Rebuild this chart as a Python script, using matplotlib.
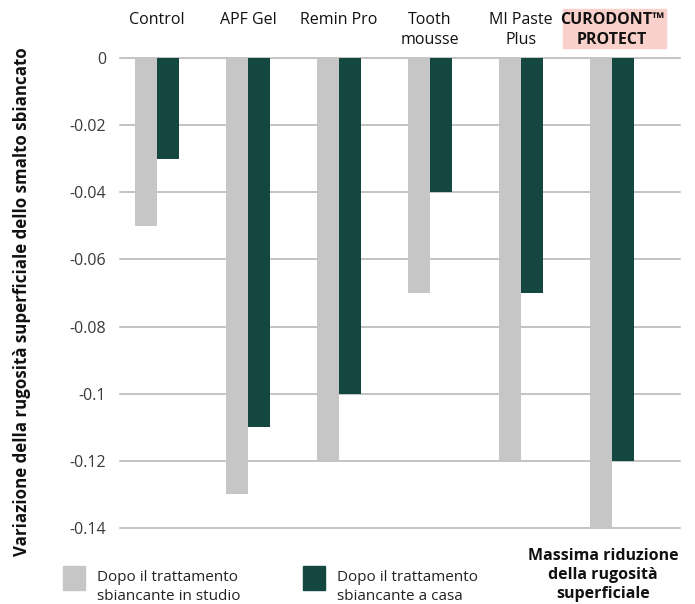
import numpy as np
import matplotlib as mpl; mpl.use('Agg'); import matplotlib.pyplot as plt
from matplotlib.patches import Rectangle
mpl.rcParams.update({'font.family':['Open Sans','DejaVu Sans'],'axes.linewidth':0})

categories=['Control','APF Gel','Remin Pro','Tooth\nmousse','MI Paste\nPlus','CURODONT™\nPROTECT']
studio=[-0.05,-0.13,-0.12,-0.07,-0.12,-0.14]
casa=[-0.03,-0.11,-0.10,-0.04,-0.07,-0.12]
yticks=[0,-0.02,-0.04,-0.06,-0.08,-0.1,-0.12,-0.14]
ytick_labels=['0','-0.02','-0.04','-0.06','-0.08','-0.1','-0.12','-0.14']
GREY='#c6c6c6'; GREEN='#154741'; PINK='#f9d0ca'

fig=plt.figure(figsize=(6.95,6.04),dpi=100)
ax=fig.add_axes([120/695,1-528/604,560/695,470/604])
x=np.arange(len(categories)); w=0.24
ax.bar(x-w/2,studio,w,color=GREY,zorder=3)
ax.bar(x+w/2,casa,w,color=GREEN,zorder=3)
ax.set_xlim(-0.407,5.747); ax.set_ylim(-0.14,0)
ax.set_yticks(yticks); ax.set_yticklabels(ytick_labels,fontsize=11.5,color='#3a3a3a')
ax.tick_params(axis='y',length=0,pad=10); ax.set_xticks([])
for s in ax.spines.values(): s.set_visible(False)
for v in yticks: ax.axhline(v,color='#b3b3b3',lw=1.1,zorder=1,clip_on=False)
fig.text(22/695,1-302/604,'Variazione della rugosità superficiale dello smalto sbiancato',rotation=90,
         fontsize=12.2,fontweight='bold',ha='center',va='center',color='#111111')

# category labels above the plot
tr=mpl.transforms.blended_transform_factory(ax.transData,fig.transFigure)
for i,c in enumerate(categories):
    last=i==len(categories)-1
    ax.text(i,1-12/604,c,transform=tr,ha='center',va='top',fontsize=11.5,linespacing=1.3,
            color='#111111',fontweight='bold' if last else 'normal')
fig.add_artist(Rectangle((563/695,1-48/604),103/695,39/604,transform=fig.transFigure,color=PINK,zorder=0))

# legend
fig.add_artist(Rectangle((63/695,1-590/604),22/695,24/604,transform=fig.transFigure,color=GREY))
fig.text(97/695,1-587/604,'Dopo il trattamento\nsbiancante in studio',fontsize=11,va='center',ha='left',linespacing=1.3,color='#222222')
fig.add_artist(Rectangle((303/695,1-590/604),22/695,24/604,transform=fig.transFigure,color=GREEN))
fig.text(337/695,1-587/604,'Dopo il trattamento\nsbiancante a casa',fontsize=11,va='center',ha='left',linespacing=1.3,color='#222222')
fig.text(603/695,1-575/604,'Massima riduzione\ndella rugosità\nsuperficiale',fontsize=11.5,fontweight='bold',
         ha='center',va='center',linespacing=1.25,color='#111111')

fig.savefig('out.png',dpi=100)
